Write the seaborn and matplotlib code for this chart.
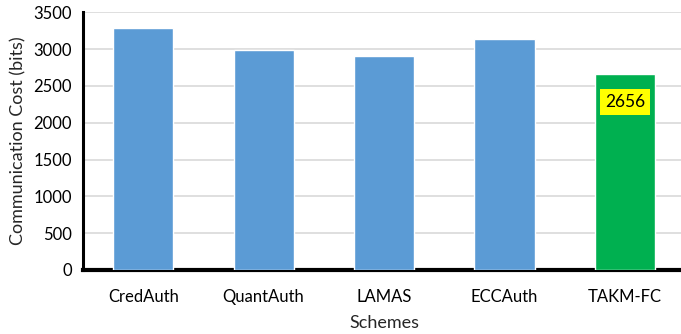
import matplotlib
matplotlib.use("Agg")
import matplotlib.pyplot as plt
import seaborn as sns
import pandas as pd

schemes = ["CredAuth", "QuantAuth", "LAMAS", "ECCAuth", "TAKM-FC"]
cost_bits = [3284, 2988, 2906, 3138, 2656]
bar_colors = ["#5B9BD5", "#5B9BD5", "#5B9BD5", "#5B9BD5", "#00B050"]
y_ticks = [0, 500, 1000, 1500, 2000, 2500, 3000, 3500]

sns.set_style("white")
plt.rcParams["font.family"] = ["Lato", "DejaVu Sans"]

df = pd.DataFrame({"Scheme": schemes, "Cost": cost_bits})

fig = plt.figure(figsize=(6.81, 3.34), dpi=100)
ax = fig.add_axes([83 / 681, 64 / 334, 602 / 681, 257.7 / 334])

sns.barplot(data=df, x="Scheme", y="Cost", hue="Scheme", palette=bar_colors,
            width=0.5, legend=False, ax=ax, saturation=1, zorder=3)

ax.set_ylim(0, 3500)
ax.set_xlim(-0.5, 4.5)
ax.set_yticks(y_ticks)
ax.yaxis.grid(True, color="#D9D9D9", linewidth=1.2, zorder=0)
ax.set_axisbelow(True)

for side in ["top", "right"]:
    ax.spines[side].set_visible(False)
ax.spines["left"].set_linewidth(2.2)
ax.spines["left"].set_color("black")
ax.spines["bottom"].set_linewidth(3)
ax.spines["bottom"].set_color("black")

ax.tick_params(axis="both", length=0, labelsize=12, colors="black")
ax.tick_params(axis="x", pad=14)
ax.tick_params(axis="y", pad=8)
ax.set_xlabel("Schemes", fontsize=13, labelpad=7)
ax.set_ylabel("Communication Cost (bits)", fontsize=13, labelpad=5)

# value label for the proposed scheme
last = len(schemes) - 1
ax.text(last, cost_bits[last] - 370, f"{cost_bits[last]}", ha="center", va="center",
        fontsize=12.5, color="black", zorder=5,
        bbox=dict(boxstyle="square,pad=0.28", facecolor="#FFFF00", edgecolor="none"))

fig.savefig("out.png", dpi=100)
